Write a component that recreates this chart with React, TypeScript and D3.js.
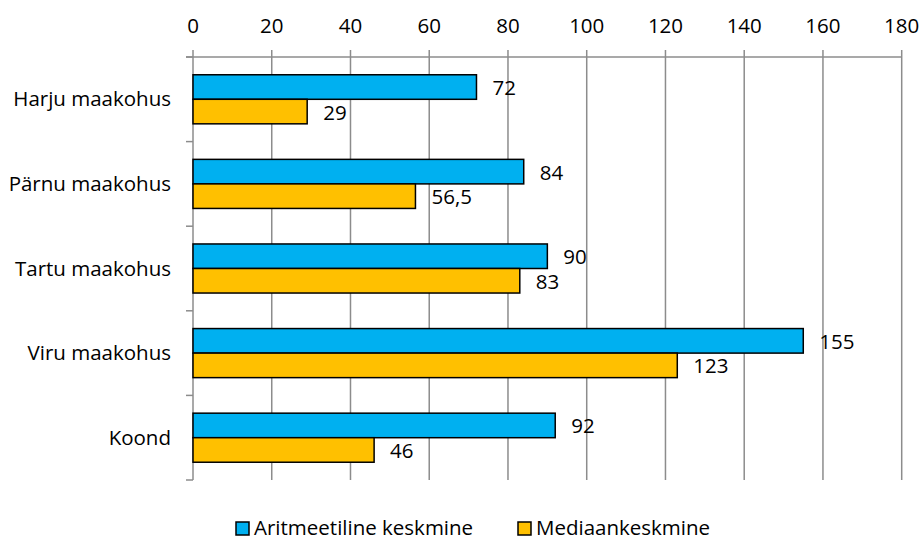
import { useEffect, useRef } from 'react';
import * as d3 from 'd3';

const categories = ['Harju maakohus', 'Pärnu maakohus', 'Tartu maakohus', 'Viru maakohus', 'Koond'];
const meanValues = [72, 84, 90, 155, 92];
const medianValues = [29, 56.5, 83, 123, 46];
const seriesNames = ['Aritmeetiline keskmine', 'Mediaankeskmine'];
const seriesColors = ['#00B0F0', '#FFC000'];
const xTicks = [0, 20, 40, 60, 80, 100, 120, 140, 160, 180];

const width = 924;
const height = 541;
const font = '"Open Sans", sans-serif';
const fontSize = 20.5;

export default function App() {
  const svgRef = useRef<SVGSVGElement>(null);

  useEffect(() => {
    if (!svgRef.current) return;
    const svg = d3.select(svgRef.current);
    svg.selectAll('*').remove();

    const margin = { top: 57, right: 22, bottom: 61, left: 193 };

    svg.append('rect').attr('width', width).attr('height', height).attr('fill', '#fff');

    const x = d3.scaleLinear().domain([0, 180]).range([margin.left, width - margin.right - 0.3]);
    const y = d3.scaleBand<string>()
      .domain(categories)
      .range([margin.top, height - margin.bottom]);
    const barH = y.bandwidth() * 0.29;

    // vertical gridlines
    svg.append('g')
      .selectAll('line')
      .data(xTicks.slice(1))
      .join('line')
      .attr('x1', d => x(d))
      .attr('x2', d => x(d))
      .attr('y1', margin.top - 7)
      .attr('y2', height - margin.bottom)
      .attr('stroke', '#8c8c8c')
      .attr('stroke-width', 1.5);

    // top axis line + tick labels
    svg.append('line')
      .attr('x1', margin.left - 7)
      .attr('x2', x(180))
      .attr('y1', margin.top)
      .attr('y2', margin.top)
      .attr('stroke', '#8c8c8c')
      .attr('stroke-width', 1.5);

    svg.append('g')
      .selectAll('text')
      .data(xTicks)
      .join('text')
      .attr('x', d => x(d))
      .attr('y', 33)
      .attr('text-anchor', 'middle')
      .attr('font-family', font)
      .attr('font-size', fontSize)
      .attr('fill', '#000')
      .text(d => d);

    // left axis + category ticks
    svg.append('line')
      .attr('x1', margin.left)
      .attr('x2', margin.left)
      .attr('y1', margin.top - 7)
      .attr('y2', height - margin.bottom)
      .attr('stroke', '#8c8c8c')
      .attr('stroke-width', 1.5);

    const boundaries = categories.map(c => y(c)! + y.bandwidth()).concat([margin.top]);
    svg.append('g')
      .selectAll('line')
      .data(boundaries)
      .join('line')
      .attr('x1', margin.left - 7)
      .attr('x2', margin.left)
      .attr('y1', d => d)
      .attr('y2', d => d)
      .attr('stroke', '#8c8c8c')
      .attr('stroke-width', 1.5);

    svg.append('g')
      .selectAll('text')
      .data(categories)
      .join('text')
      .attr('x', 171)
      .attr('y', d => y(d)! + y.bandwidth() / 2 + 7)
      .attr('text-anchor', 'end')
      .attr('font-family', font)
      .attr('font-size', fontSize)
      .attr('fill', '#000')
      .text(d => d);

    // bars
    const series = [meanValues, medianValues];
    series.forEach((values, si) => {
      const g = svg.append('g');
      const top = (c: string) => y(c)! + y.bandwidth() / 2 - barH + si * barH;
      g.selectAll('rect')
        .data(categories)
        .join('rect')
        .attr('x', x(0))
        .attr('y', c => top(c))
        .attr('width', (c, i) => x(values[i]) - x(0))
        .attr('height', barH)
        .attr('fill', seriesColors[si])
        .attr('stroke', '#000')
        .attr('stroke-width', 1.5);

      g.selectAll('text')
        .data(categories)
        .join('text')
        .attr('x', (c, i) => x(values[i]) + 16)
        .attr('y', c => top(c) + barH / 2 + 8)
        .attr('font-family', font)
        .attr('font-size', fontSize)
        .attr('fill', '#000')
        .text((c, i) => String(values[i]).replace('.', ','));
    });

    // legend
    const legendItems = [
      { name: seriesNames[0], color: seriesColors[0], x: 236 },
      { name: seriesNames[1], color: seriesColors[1], x: 518 },
    ];
    const lg = svg.append('g');
    legendItems.forEach(item => {
      lg.append('rect')
        .attr('x', item.x)
        .attr('y', 522)
        .attr('width', 13)
        .attr('height', 13)
        .attr('fill', item.color)
        .attr('stroke', '#000')
        .attr('stroke-width', 1.5);
      lg.append('text')
        .attr('x', item.x + 18)
        .attr('y', 535)
        .attr('font-family', font)
        .attr('font-size', fontSize)
        .attr('fill', '#000')
        .text(item.name);
    });
  }, []);

  return (
    <svg
      ref={svgRef}
      width={width}
      height={height}
      style={{ position: 'absolute', left: 0, top: 0, display: 'block' }}
    />
  );
}
